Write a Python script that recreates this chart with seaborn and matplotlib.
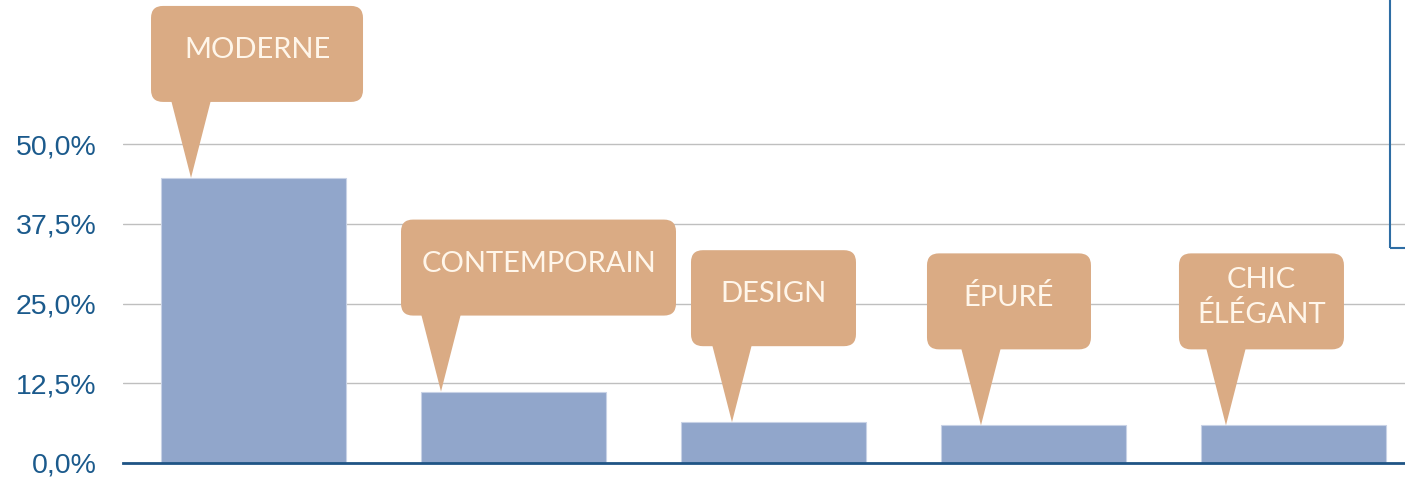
import matplotlib
matplotlib.use("Agg")
import matplotlib.pyplot as plt
import matplotlib.transforms as mtransforms
from matplotlib.patches import FancyBboxPatch, Polygon, Rectangle
from matplotlib.ticker import FuncFormatter
import seaborn as sns

# data
categories = ["MODERNE", "CONTEMPORAIN", "DESIGN", "ÉPURÉ", "CHIC\nÉLÉGANT"]
shares = [44.7, 11.2, 6.4, 5.9, 5.9]
yticks = [0, 12.5, 25, 37.5, 50]

# callout layout, in pixels relative to the top centre of each bar
tip_dx = [-62.5, -72.5, -41.5, -52.5, -67.5]
box_left = [-102.5, -112.5, -82.5, -106.5, -114.5]
box_right = [109.5, 162.5, 82.5, 57.5, 50.5]

bar_color = "#91A6CB"
callout_color = "#DAAB84"
label_color = "#1B5A8C"

sns.set_style("white")
plt.rcParams["font.family"] = ["Liberation Sans", "DejaVu Sans"]

fig = plt.figure(figsize=(14.05, 4.8), dpi=100)
ax = fig.add_axes([123 / 1405, 17 / 480, 1 - 123 / 1405, 463 / 480])

sns.barplot(x=categories, y=shares, color=bar_color, saturation=1,
            width=0.71, ax=ax, edgecolor="#C8D2E6", linewidth=0.8, zorder=2)

ax.set_xlim(-0.502, 4.429)
ax.set_ylim(0, 72.6)
ax.set_yticks(yticks)
ax.yaxis.set_major_formatter(FuncFormatter(lambda v, p: f"{v:.1f}%".replace(".", ",")))
ax.tick_params(axis="y", length=0, pad=19, labelsize=20.5, labelcolor=label_color)
ax.set_xticks([])
ax.set_xlabel("")
ax.set_ylabel("")
ax.grid(axis="y", color="#BFBFBF", linewidth=1, zorder=0)
ax.set_axisbelow(True)
for s in ["top", "right", "left"]:
    ax.spines[s].set_visible(False)
ax.spines["bottom"].set_color("#1F5485")
ax.spines["bottom"].set_linewidth(2)

# callouts
for i, (lab, v) in enumerate(zip(categories, shares)):
    trans = fig.dpi_scale_trans + mtransforms.ScaledTranslation(i, v, ax.transData)
    dx = tip_dx[i] / 100
    l, r = box_left[i] / 100, box_right[i] / 100
    b, t = 0.76, 1.72
    box = FancyBboxPatch((l, b), r - l, t - b,
                         boxstyle="round,pad=0,rounding_size=0.12",
                         transform=trans, facecolor=callout_color,
                         edgecolor="none", clip_on=False, zorder=4)
    ax.add_patch(box)
    tail = Polygon([(dx - 0.2, b + 0.02), (dx + 0.2, b + 0.02), (dx, 0)],
                   closed=True, transform=trans, facecolor=callout_color,
                   edgecolor="none", clip_on=False, zorder=4)
    ax.add_patch(tail)
    ax.text((l + r) / 2, (b + t) / 2 + 0.04, lab, transform=trans,
            ha="center", va="center", fontsize=21, color="#FFF6EA",
            family=["Lato", "DejaVu Sans"], fontweight="normal",
            linespacing=1.35, zorder=5)

# partial frame on the right edge
fig.patches.append(Rectangle((1390 / 1405, 1 - 248 / 480), 0.05, 0.6,
                             transform=fig.transFigure, fill=False,
                             edgecolor="#2E6DA4", linewidth=1.5, zorder=6))

fig.savefig("out.png", dpi=100)
